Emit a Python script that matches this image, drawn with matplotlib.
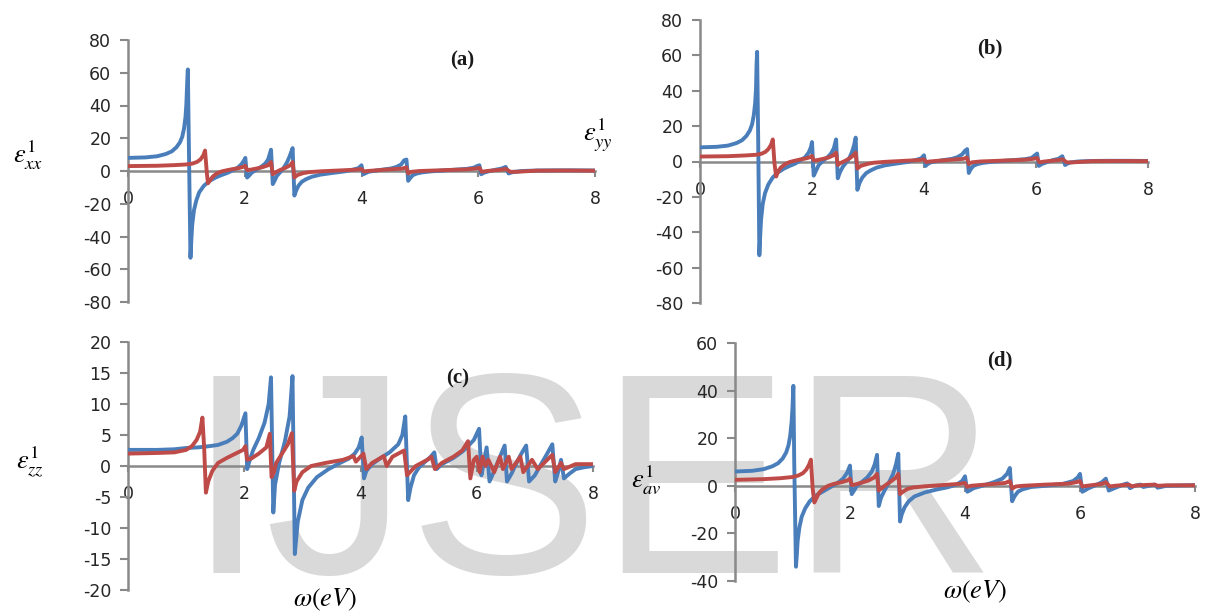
import matplotlib
matplotlib.use("Agg")
import matplotlib.pyplot as plt

# ---------------- data ----------------
# panel (a)  eps_xx
xa_blue = [0, 0.3, 0.5, 0.65, 0.75, 0.83, 0.89, 0.93, 0.96, 0.985, 1.0, 1.015, 1.025, 1.045, 1.07, 1.085,
           1.1, 1.13, 1.17, 1.22, 1.3, 1.4, 1.5, 1.6, 1.7, 1.8, 1.88, 1.94, 1.98, 2.01, 2.04, 2.07, 2.12,
           2.2, 2.28, 2.35, 2.4, 2.45, 2.48, 2.51, 2.55, 2.6, 2.66, 2.72, 2.77, 2.82, 2.85, 2.88, 2.92,
           2.98, 3.05, 3.15, 3.3, 3.5, 3.7, 3.85, 3.95, 4.0, 4.03, 4.06, 4.12, 4.2, 4.35, 4.5, 4.6, 4.68,
           4.73, 4.77, 4.8, 4.83, 4.88, 4.95, 5.05, 5.2, 5.4, 5.6, 5.8, 5.92, 5.98, 6.02, 6.05, 6.1, 6.2,
           6.3, 6.4, 6.47, 6.52, 6.56, 6.62, 6.75, 7.0, 7.3, 7.6, 8.0]
ya_blue = [8, 8.3, 9, 10.4, 12, 14.5, 17.5, 21, 26, 33, 41, 55, 62, 10, -53, -42,
           -33, -24, -18, -13, -9, -6, -4, -2.5, -1.2, 0.5, 2, 4, 6, 8, -4, -3, -1,
           0.8, 2.5, 4.5, 7, 13, -8, -6, -3, -1, 1.5, 5, 9, 14, -15, -12, -9,
           -6.5, -5, -3.5, -2.2, -1.2, -0.3, 0.8, 1.8, 3.5, -2, -1.5, -0.5, 0, 0.8, 1.5, 2.5, 4,
           6.5, 7, -6, -4.5, -2.5, -1.5, -0.8, -0.2, 0.3, 0.8, 1.3, 2, 3, 3.5, -2, -1, 0,
           0.8, 1.5, 2.5, -1.5, -1, -0.5, 0, 0.3, 0.4, 0.4, 0.3]
xa_red = [0, 0.5, 0.8, 1.0, 1.1, 1.18, 1.24, 1.29, 1.32, 1.35, 1.37, 1.4, 1.45, 1.52, 1.6, 1.7, 1.8,
          1.9, 1.97, 2.01, 2.04, 2.1, 2.2, 2.3, 2.4, 2.45, 2.48, 2.52, 2.6, 2.7, 2.78, 2.82, 2.85, 2.9,
          3.0, 3.1, 3.3, 3.6, 3.9, 4.0, 4.04, 4.1, 4.4, 4.7, 4.77, 4.8, 4.85, 5.0, 5.4, 5.8, 5.95, 6.02,
          6.06, 6.15, 6.4, 6.47, 6.55, 6.65, 7.0, 7.5, 8.0]
ya_red = [3, 3.2, 3.6, 4, 4.5, 5.5, 7, 9.5, 12.5, -1, -7.5, -6, -3.5, -1.5, -0.3, 0.5, 1.2,
          1.8, 2.5, 3.2, 0.5, 0.8, 1.5, 2.3, 3.5, 5.5, -2, -1, 0.5, 2, 3.5, 5.5, -4, -2.5,
          -1.3, -0.7, -0.2, 0.3, 0.8, 1.2, -0.3, 0, 0.8, 1.5, 2.2, -1.5, -0.5, 0, 0.5, 1, 1.5, 2,
          -0.5, 0, 0.8, 1.3, -0.5, -0.5, 0.2, 0.3, 0.2]

# panel (b)  eps_yy
xb_blue = [0, 0.3, 0.5, 0.65, 0.75, 0.83, 0.89, 0.93, 0.96, 0.985, 1.0, 1.01, 1.02, 1.04, 1.06, 1.075,
           1.09, 1.12, 1.16, 1.22, 1.3, 1.4, 1.5, 1.6, 1.7, 1.8, 1.88, 1.94, 1.98, 2.0, 2.03, 2.06, 2.12,
           2.2, 2.28, 2.34, 2.39, 2.43, 2.46, 2.5, 2.55, 2.6, 2.66, 2.71, 2.75, 2.78, 2.81, 2.85, 2.9,
           2.97, 3.05, 3.15, 3.3, 3.5, 3.7, 3.85, 3.95, 4.0, 4.03, 4.06, 4.12, 4.2, 4.35, 4.5, 4.6, 4.68,
           4.73, 4.77, 4.8, 4.83, 4.88, 4.95, 5.05, 5.2, 5.4, 5.6, 5.8, 5.92, 5.98, 6.02, 6.05, 6.1, 6.2,
           6.3, 6.4, 6.47, 6.52, 6.56, 6.62, 6.75, 7.0, 7.3, 7.6, 8.0]
yb_blue = [8, 8.3, 9, 10.4, 12, 14.5, 17.5, 21, 26, 33, 41, 55, 62, 10, -53, -42,
           -33, -24, -18, -13, -9, -6, -4, -2.5, -1.2, 0.8, 2.5, 5, 8, 11, -8, -6, -2,
           0.5, 2.5, 4.5, 7.5, 12.5, -9.5, -6, -3, -1, 1.5, 5, 9, 13.5, -16, -12, -9,
           -6.5, -5, -3.5, -2.2, -1.2, -0.3, 0.8, 1.8, 3.5, -2.5, -1.5, -0.5, 0, 0.8, 1.5, 2.5, 4,
           6, 7, -6.5, -4.5, -2.5, -1.5, -0.8, -0.2, 0.3, 0.8, 1.3, 2, 3.5, 4.5, -2.5, -1.5, -0.3,
           0.8, 1.5, 3, -2, -1.2, -0.5, 0, 0.3, 0.4, 0.4, 0.3]
xb_red = [0, 0.5, 0.8, 1.0, 1.1, 1.17, 1.22, 1.27, 1.3, 1.33, 1.36, 1.39, 1.44, 1.52, 1.6, 1.7, 1.8,
          1.9, 1.97, 2.0, 2.03, 2.1, 2.2, 2.3, 2.38, 2.43, 2.46, 2.5, 2.6, 2.68, 2.74, 2.78, 2.81, 2.87,
          3.0, 3.1, 3.3, 3.6, 3.9, 4.0, 4.04, 4.1, 4.4, 4.7, 4.77, 4.8, 4.85, 5.0, 5.4, 5.8, 5.95, 6.02,
          6.06, 6.15, 6.4, 6.47, 6.55, 6.65, 7.0, 7.5, 8.0]
yb_red = [2.8, 3, 3.4, 3.8, 4.4, 5.5, 7, 9.5, 12.5, -1, -8.5, -6, -3.5, -1.5, -0.3, 0.5, 1.2,
          1.8, 2.5, 3.2, 0.5, 0.8, 1.5, 2.3, 3.5, 5, -2, -1, 0.5, 2, 3.5, 5, -4, -2.5,
          -1.3, -0.7, -0.2, 0.3, 0.8, 1.2, -0.3, 0, 0.8, 1.5, 2.2, -1.5, -0.5, 0, 0.5, 1, 1.5, 2,
          -0.5, 0, 0.8, 1.3, -0.5, -0.5, 0.2, 0.3, 0.2]

# panel (c)  eps_zz
xc_blue = [0, 0.5, 0.8, 1.0, 1.2, 1.4, 1.55, 1.7, 1.8, 1.88, 1.95, 2.02, 2.05, 2.08, 2.15, 2.25, 2.35,
           2.42, 2.46, 2.5, 2.53, 2.6, 2.7, 2.78, 2.83, 2.87, 2.92, 3.0, 3.1, 3.25, 3.45, 3.65, 3.8,
           3.9, 3.97, 4.02, 4.06, 4.1, 4.2, 4.35, 4.5, 4.65, 4.72, 4.77, 4.82, 4.86, 4.92, 5.0, 5.1,
           5.2, 5.27, 5.31, 5.4, 5.6, 5.75, 5.85, 5.95, 6.04, 6.08, 6.12, 6.17, 6.22, 6.3, 6.4, 6.48,
           6.52, 6.6, 6.7, 6.78, 6.85, 6.9, 7.0, 7.1, 7.2, 7.3, 7.35, 7.4, 7.45, 7.5, 7.6, 7.7, 7.85, 8.0]
yc_blue = [2.6, 2.6, 2.7, 2.9, 3.0, 3.2, 3.4, 3.9, 4.5, 5.2, 6.5, 8.5, -0.5, 0.5, 2.5, 4.5, 7,
           10, 14.3, -7.5, -3, 0.5, 4, 8, 14.5, -14.2, -9, -5.5, -3.5, -1.8, -0.5, 0.5, 1.2,
           2, 3, 4.6, -2, -0.8, 0.3, 1.3, 2.2, 3.5, 5, 8, -5.5, -3.5, -1.5, -0.3, 0.6,
           1.4, 2.2, -0.5, 0.3, 1.3, 2.3, 3.2, 4.2, 6, -1.5, 0.5, 3, -2.5, -0.8, 1.5, 3.3,
           -2.5, -1.2, 0.8, 2.2, 3.3, -2.5, -1.5, 0.2, 1.8, 3.5, -2.5, -1, 1, -2, -1.2, -0.5, -0.2, 0]
xc_red = [0, 0.5, 0.8, 1.0, 1.1, 1.18, 1.24, 1.28, 1.31, 1.34, 1.38, 1.45, 1.55, 1.7, 1.85, 1.98, 2.02,
          2.05, 2.12, 2.25, 2.38, 2.44, 2.47, 2.51, 2.55, 2.65, 2.75, 2.82, 2.86, 2.9, 3.0, 3.15, 3.4,
          3.7, 3.88, 3.92, 4.05, 4.1, 4.2, 4.4, 4.45, 4.55, 4.75, 4.8, 4.95, 5.15, 5.22, 5.28, 5.4,
          5.6, 5.75, 5.85, 5.89, 5.95, 6.0, 6.05, 6.1, 6.15, 6.2, 6.3, 6.4, 6.45, 6.55, 6.6, 6.75,
          6.8, 6.95, 7.05, 7.3, 7.35, 7.45, 7.5, 7.7, 8.0]
yc_red = [2.0, 2.1, 2.2, 2.6, 3.2, 4.2, 5.5, 7.8, 3, -4.3, -2.5, -0.8, 0.5, 1.3, 2, 2.6, 3.2,
          1, 1.2, 2, 3, 5.2, -1.8, -1, 0.5, 2, 3.5, 5.3, -4, -2.5, -1, 0, 0.5,
          1, 1.6, 0.7, 2, -0.5, 0.5, 1.6, 0, 1.5, 2.5, -1.5, 0, 1, 1.5, -0.5, 0.5,
          1.5, 2.5, 4, -2, 1, 1.5, -1, 1.5, 0, 1, -1, 1.5, -0.5, 1.5, -0.5, 1.5,
          -1, 1, -0.5, 1.8, -1, 0.5, -0.5, 0.3, 0.3]

# panel (d)  eps_av
xd_blue = [0, 0.3, 0.5, 0.65, 0.75, 0.83, 0.89, 0.93, 0.96, 0.985, 1.0, 1.015, 1.03, 1.06, 1.075, 1.09,
           1.12, 1.16, 1.22, 1.3, 1.4, 1.5, 1.6, 1.7, 1.8, 1.88, 1.95, 2.0, 2.03, 2.07, 2.12, 2.2, 2.3,
           2.38, 2.43, 2.47, 2.5, 2.54, 2.6, 2.68, 2.75, 2.8, 2.84, 2.87, 2.9, 2.95, 3.02, 3.12, 3.3,
           3.5, 3.7, 3.85, 3.95, 4.0, 4.04, 4.08, 4.15, 4.3, 4.5, 4.65, 4.73, 4.78, 4.82, 4.86, 4.92,
           5.0, 5.15, 5.4, 5.7, 5.88, 5.96, 6.0, 6.04, 6.08, 6.15, 6.25, 6.38, 6.45, 6.5, 6.55, 6.65,
           6.75, 6.82, 6.87, 6.95, 7.05, 7.1, 7.2, 7.3, 7.35, 7.5, 8.0]
yd_blue = [6, 6.3, 7, 8.2, 9.5, 11.5, 14, 17, 21, 27, 33, 42, 10, -34, -29, -23,
           -17.5, -13, -9.5, -6.5, -4.2, -2.8, -1.4, 0, 1.5, 3, 5.5, 8.5, -3.5, -2, 0, 1.5, 3.5,
           6, 9, 13, -8.5, -5, -2, 1.5, 5, 9, 13.5, -15, -12, -9, -6.5, -4.5, -2.8,
           -1.6, -0.6, 0.5, 2, 4, -2.5, -2, -1, 0, 1.5, 3, 5, 7.5, -6.5, -4.5, -2.5,
           -1.5, -0.5, 0, 0.8, 2, 3.5, 5, -2.5, -2, -1, 0, 1.5, 3, -2, -1.5, -0.5,
           0.5, 1, -1, 0, 0.5, -0.5, 0, 0.5, -0.8, 0, 0.3]
xd_red = [0, 0.5, 0.8, 1.0, 1.1, 1.18, 1.24, 1.29, 1.32, 1.35, 1.38, 1.41, 1.46, 1.53, 1.62, 1.72,
          1.85, 1.95, 2.0, 2.03, 2.1, 2.2, 2.32, 2.42, 2.47, 2.5, 2.55, 2.62, 2.72, 2.8, 2.84, 2.87,
          2.92, 3.0, 3.1, 3.3, 3.6, 3.9, 4.0, 4.04, 4.1, 4.4, 4.7, 4.78, 4.82, 4.88, 5.0, 5.4, 5.8,
          5.95, 6.0, 6.04, 6.12, 6.38, 6.45, 6.52, 6.6, 6.85, 6.9, 7.0, 7.3, 7.35, 7.5, 8.0]
yd_red = [2.5, 2.8, 3.2, 3.7, 4.3, 5.3, 6.8, 9, 11, -1, -7, -5.5, -3, -1.3, 0, 0.8,
          1.5, 2.2, 3, 0.3, 0.6, 1.3, 2.2, 3.5, 5, -2, -1, 0.3, 2, 3.5, 5, -3.5,
          -2.5, -1.3, -0.7, -0.2, 0.3, 0.8, 1.2, -0.5, 0, 0.6, 1.2, 2, -1.2, -0.3, 0, 0.5, 0.9,
          1.6, 2, -0.3, 0, 0.8, 1.5, -0.3, 0, 0.5, -0.2, 0.2, 0.5, 0, 0.2, 0.2]

panel_tags = ["(a)", "(b)", "(c)", "(d)"]
y_labels = [r"$\varepsilon^{1}_{xx}$", r"$\varepsilon^{1}_{yy}$",
            r"$\varepsilon^{1}_{zz}$", r"$\varepsilon^{1}_{av}$"]
x_ticks = [0, 2, 4, 6, 8]
y_ticks_ab = [-80, -60, -40, -20, 0, 20, 40, 60, 80]
y_ticks_c = [-20, -15, -10, -5, 0, 5, 10, 15, 20]
y_ticks_d = [-40, -20, 0, 20, 40, 60]
x_label = r"$\omega(eV)$"

BLUE = "#4a7ebb"
RED = "#be4b48"
GREY = "#898989"

plt.rcParams["mathtext.fontset"] = "stix"
plt.rcParams["font.family"] = ["DejaVu Sans"]

W, H = 1209, 615
fig = plt.figure(figsize=(W / 100, H / 100), dpi=100)
fig.patch.set_facecolor("white")


def box(x0, x1, ytop, ybot):
    return [x0 / W, 1 - ybot / H, (x1 - x0) / W, (ybot - ytop) / H]


specs = [
    (box(128, 595, 40, 302), xa_blue, ya_blue, xa_red, ya_red, y_ticks_ab),
    (box(700, 1148, 20, 303), xb_blue, yb_blue, xb_red, yb_red, y_ticks_ab),
    (box(128, 593, 342, 590), xc_blue, yc_blue, xc_red, yc_red, y_ticks_c),
    (box(735, 1195, 343, 581), xd_blue, yd_blue, xd_red, yd_red, y_ticks_d),
]

for rect, xb, yb, xr, yr, yt in specs:
    ax = fig.add_axes(rect)
    ax.patch.set_alpha(0)
    ax.plot(xb, yb, color=BLUE, lw=2.8, solid_joinstyle="round", zorder=3)
    ax.plot(xr, yr, color=RED, lw=2.8, solid_joinstyle="round", zorder=4)
    ax.set_xlim(0, 8)
    ax.set_ylim(yt[0], yt[-1])
    ax.set_xticks(x_ticks)
    ax.set_yticks(yt)
    ax.set_xticklabels([str(v) for v in x_ticks])
    ax.set_yticklabels([str(v) for v in yt])
    for s in ("top", "right"):
        ax.spines[s].set_visible(False)
    ax.spines["left"].set_position(("data", 0))
    ax.spines["bottom"].set_position(("data", 0))
    for s in ("left", "bottom"):
        ax.spines[s].set_color(GREY)
        ax.spines[s].set_linewidth(1.8)
        ax.spines[s].set_zorder(2)
    ax.tick_params(axis="y", direction="out", length=6, width=1.5, color=GREY,
                   labelsize=12.5, labelcolor="#262626", pad=6)
    ax.tick_params(axis="x", direction="out", length=4, width=1.5, color=GREY,
                   labelsize=12.5, labelcolor="#262626", pad=10)

# panel tags
for tag, (px, py) in zip(panel_tags, [(462, 60), (990, 48), (458, 378), (1000, 360)]):
    fig.text(px / W, 1 - py / H, tag, fontsize=15, family="Liberation Serif",
             weight="bold", ha="center", va="center", color="#1a1a1a")

# y labels
for lab, (px, py) in zip(y_labels, [(28, 155), (598, 135), (30, 462), (646, 480)]):
    fig.text(px / W, 1 - py / H, lab, fontsize=19, ha="center", va="center")

# x labels
for px, py in [(325, 600), (975, 592)]:
    fig.text(px / W, 1 - py / H, x_label, fontsize=19, ha="center", va="center")

# watermark
fig.text(187 / W, 1 - 573 / H, "IJSER", fontsize=206, family="Liberation Sans",
         color="#d9d9d9", ha="left", va="baseline", zorder=-10)

fig.savefig("out.png", dpi=100, facecolor="white")
